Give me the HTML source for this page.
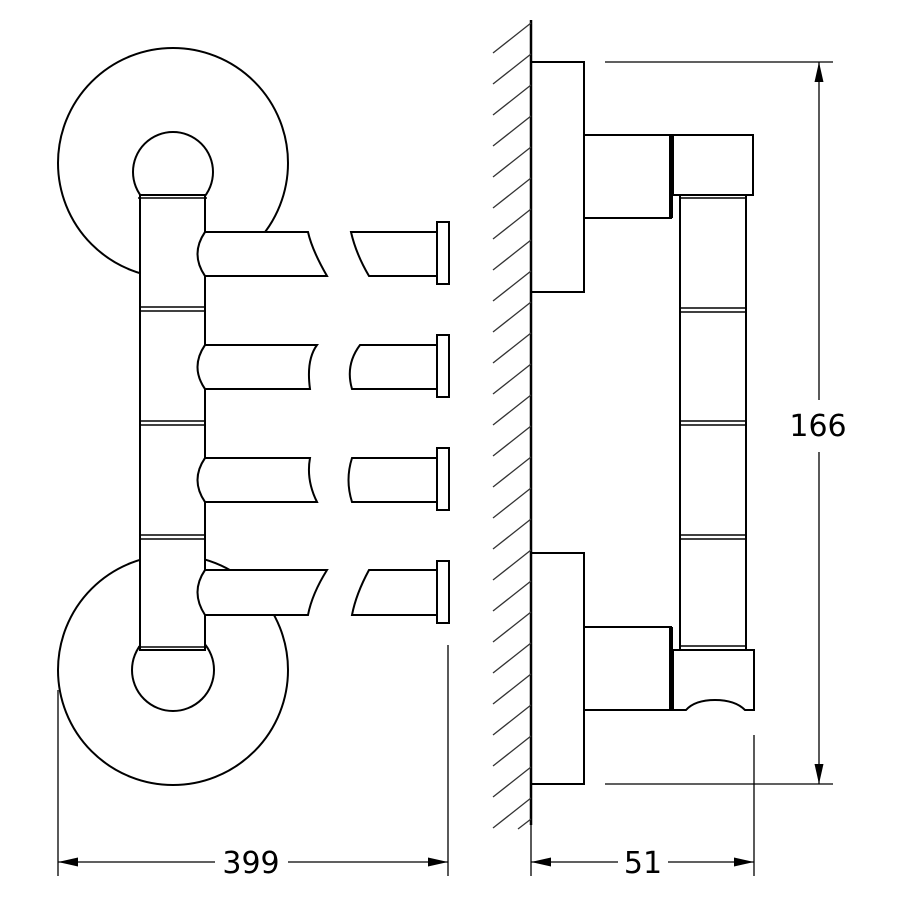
<!DOCTYPE html>
<html><head><meta charset="utf-8"><style>html,body{margin:0;padding:0;background:#fff}svg{display:block}</style></head>
<body>
<svg width="900" height="900" viewBox="0 0 900 900" xmlns="http://www.w3.org/2000/svg">
<defs>
<marker id="ar" viewBox="0 0 10 10" refX="10" refY="5" markerWidth="20" markerHeight="14" markerUnits="userSpaceOnUse" orient="auto-start-reverse" preserveAspectRatio="none"><path d="M0,1.8 L10,5 L0,8.2 z" fill="#000"/></marker>
</defs>
<g fill="#fff" stroke="#000" stroke-width="2">
<circle cx="173" cy="163" r="115"/>
<circle cx="173" cy="670" r="115"/>
<circle cx="173" cy="172" r="40"/>
<circle cx="173" cy="670" r="41"/>
<rect x="140" y="195" width="65" height="455"/>
<g stroke-width="1.5">
<line x1="138" y1="198" x2="207" y2="198"/>
<line x1="140" y1="307" x2="205" y2="307"/><line x1="140" y1="311" x2="205" y2="311"/>
<line x1="140" y1="421" x2="205" y2="421"/><line x1="140" y1="425" x2="205" y2="425"/>
<line x1="140" y1="535" x2="205" y2="535"/><line x1="140" y1="539" x2="205" y2="539"/>
<line x1="138" y1="647" x2="207" y2="647"/>
</g>
<path d="M205,232 L308,232 Q312,250 327,276 L205,276 Q190,254 205,232 Z"/>
<path d="M351,232 L437,232 L437,276 L369,276 Q356,254 351,232 Z"/>
<rect x="437" y="222" width="12" height="62"/>
<path d="M205,345 L317,345 Q306,360 310,389 L205,389 Q190,367 205,345 Z"/>
<path d="M360,345 L437,345 L437,389 L352,389 Q345,365 360,345 Z"/>
<rect x="437" y="335" width="12" height="62"/>
<path d="M205,458 L310,458 Q306,480 317,502 L205,502 Q190,480 205,458 Z"/>
<path d="M352,458 L437,458 L437,502 L352,502 Q345,480 352,458 Z"/>
<rect x="437" y="448" width="12" height="62"/>
<path d="M205,570 L327,570 Q312,594 308,615 L205,615 Q190,592 205,570 Z"/>
<path d="M369,570 L437,570 L437,615 L352,615 Q356,594 369,570 Z"/>
<rect x="437" y="561" width="12" height="62"/>
<rect x="531" y="62" width="53" height="230"/>
<rect x="584" y="135" width="87" height="83"/>
<rect x="680" y="195" width="66" height="455"/>
<rect x="673" y="135" width="80" height="60"/>
<rect x="531" y="553" width="53" height="231"/>
<rect x="584" y="627" width="87" height="83"/>
<path d="M673,650 L754,650 L754,710 L745,710 Q735,700 715,700 Q695,700 686,710 L673,710 Z"/>
</g>
<g stroke="#000" fill="none">
<line x1="671" y1="135" x2="671" y2="218" stroke-width="4"/>
<line x1="671" y1="627" x2="671" y2="710" stroke-width="4"/>
<g stroke-width="1.5">
<line x1="680" y1="198" x2="746" y2="198"/>
<line x1="680" y1="308" x2="746" y2="308"/><line x1="680" y1="312" x2="746" y2="312"/>
<line x1="680" y1="421" x2="746" y2="421"/><line x1="680" y1="425" x2="746" y2="425"/>
<line x1="680" y1="535" x2="746" y2="535"/><line x1="680" y1="539" x2="746" y2="539"/>
<line x1="680" y1="646" x2="746" y2="646"/>
</g>
<line x1="531" y1="20" x2="531" y2="825" stroke-width="2.5"/>
<g stroke-width="1.3" stroke="#333">
<line x1="493" y1="53" x2="531" y2="23"/><line x1="493" y1="84" x2="531" y2="54"/><line x1="493" y1="115" x2="531" y2="85"/><line x1="493" y1="146" x2="531" y2="116"/><line x1="493" y1="177" x2="531" y2="147"/><line x1="493" y1="208" x2="531" y2="178"/><line x1="493" y1="239" x2="531" y2="209"/><line x1="493" y1="270" x2="531" y2="240"/><line x1="493" y1="301" x2="531" y2="271"/><line x1="493" y1="332" x2="531" y2="302"/><line x1="493" y1="363" x2="531" y2="333"/><line x1="493" y1="394" x2="531" y2="364"/><line x1="493" y1="425" x2="531" y2="395"/><line x1="493" y1="456" x2="531" y2="426"/><line x1="493" y1="487" x2="531" y2="457"/><line x1="493" y1="518" x2="531" y2="488"/><line x1="493" y1="549" x2="531" y2="519"/><line x1="493" y1="580" x2="531" y2="550"/><line x1="493" y1="611" x2="531" y2="581"/><line x1="493" y1="642" x2="531" y2="612"/><line x1="493" y1="673" x2="531" y2="643"/><line x1="493" y1="704" x2="531" y2="674"/><line x1="493" y1="735" x2="531" y2="705"/><line x1="493" y1="766" x2="531" y2="736"/><line x1="493" y1="797" x2="531" y2="767"/><line x1="493" y1="828" x2="531" y2="798"/><line x1="518" y1="829" x2="531" y2="819"/>
</g>
<g stroke-width="1.3">
<line x1="605" y1="62" x2="833" y2="62"/>
<line x1="605" y1="784" x2="833" y2="784"/>
<line x1="819" y1="62" x2="819" y2="400" marker-start="url(#ar)"/>
<line x1="819" y1="452" x2="819" y2="784" marker-end="url(#ar)"/>
<line x1="58" y1="690" x2="58" y2="876"/>
<line x1="448" y1="645" x2="448" y2="876"/>
<line x1="58" y1="862" x2="215" y2="862" marker-start="url(#ar)"/>
<line x1="288" y1="862" x2="448" y2="862" marker-end="url(#ar)"/>
<line x1="531" y1="825" x2="531" y2="876"/>
<line x1="754" y1="735" x2="754" y2="876"/>
<line x1="531" y1="862" x2="618" y2="862" marker-start="url(#ar)"/>
<line x1="668" y1="862" x2="754" y2="862" marker-end="url(#ar)"/>
</g>
</g>
<g font-family="DejaVu Sans, Liberation Sans, sans-serif" font-size="30" fill="#000" text-anchor="middle">
<text x="818" y="436">166</text>
<text x="251" y="873">399</text>
<text x="643" y="873">51</text>
</g>
</svg>
</body></html>
